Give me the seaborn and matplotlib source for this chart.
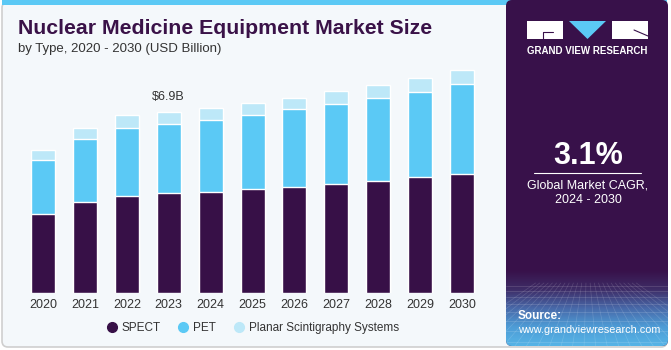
import numpy as np
import pandas as pd
import seaborn as sns
from matplotlib import pyplot as plt
from matplotlib.patches import FancyBboxPatch, Rectangle, Polygon
from matplotlib.lines import Line2D
from matplotlib.colors import LinearSegmentedColormap

# data (USD billion)
years = ["2020", "2021", "2022", "2023", "2024", "2025", "2026", "2027", "2028", "2029", "2030"]
spect = [2.99, 3.47, 3.69, 3.79, 3.84, 3.95, 4.04, 4.16, 4.27, 4.42, 4.54]
pet = [2.07, 2.38, 2.59, 2.65, 2.75, 2.80, 2.94, 3.03, 3.16, 3.23, 3.42]
planar = [0.38, 0.41, 0.47, 0.46, 0.46, 0.46, 0.44, 0.51, 0.49, 0.51, 0.53]
series_names = ["SPECT", "PET", "Planar Scintigraphy Systems"]
callout_year = "2023"
callout_text = r"\$6.9B"
cagr_text = "3.1%"

C_SPECT = "#371047"
C_PET = "#5BC9F5"
C_PLANAR = "#BDE8F8"
C_PURPLE = "#38114A"
C_BG = "#F4F8FB"

sns.set_style("white")
plt.rcParams['font.family'] = ['Liberation Sans', 'DejaVu Sans']

W, H = 671, 350
fig = plt.figure(figsize=(W / 100, H / 100), dpi=100)
fig.patch.set_facecolor("white")


def fx(px):
    return px / W


def fy(py):
    return 1 - py / H


# background layer in pixel coordinates
bg = fig.add_axes([0, 0, 1, 1], zorder=-1)
bg.set_xlim(0, W)
bg.set_ylim(H, 0)
bg.axis("off")

bg.add_patch(FancyBboxPatch((2, 2), 665, 345, boxstyle="round,pad=0,rounding_size=6",
                            fc=C_BG, ec="#CFCFCF", lw=1.2))
bg.add_patch(Rectangle((2, 0), 665, 5, fc=C_PET, ec="none"))

# right side panel
panel = FancyBboxPatch((506, 0), 162, 346, boxstyle="round,pad=0,rounding_size=6",
                       fc=C_PURPLE, ec="none")
bg.add_patch(panel)
grad_cmap = LinearSegmentedColormap.from_list("g", [C_PURPLE, "#3E2C66", "#4868A8", "#4E9CD6", "#56B4E6"])
grad = np.linspace(0, 1, 100).reshape(-1, 1)
im = bg.imshow(grad, cmap=grad_cmap, extent=[506, 668, 346, 270], aspect="auto", zorder=1)
im.set_clip_path(panel)
# faint mesh in the lower part of the panel
for yy in [286, 291, 297, 304, 312, 321, 331, 342]:
    ln, = bg.plot([506, 668], [yy, yy], color="white", alpha=0.18, lw=0.5, zorder=2)
    ln.set_clip_path(panel)
for xx in np.arange(440, 740, 12):
    ln, = bg.plot([587 + (xx - 587) * 0.35, xx], [283, 350], color="white", alpha=0.15, lw=0.5, zorder=2)
    ln.set_clip_path(panel)

# logo
bg.add_patch(Rectangle((527, 21), 36, 18, fc="white", ec="none", zorder=3))
bg.plot([543, 543, 553], [39, 32, 32], color=C_PURPLE, lw=0.8, zorder=4)
bg.add_patch(Polygon([(569, 21), (606, 21), (587.5, 39)], closed=True, fc=C_PET, ec="none", zorder=3))
bg.add_patch(Rectangle((612, 21), 36, 18, fc="white", ec="none", zorder=3))
bg.plot([634, 648], [30, 36], color=C_PURPLE, lw=0.8, zorder=4)
bg.text(587.5, 50.5, "GRAND VIEW RESEARCH", color="white", fontsize=7, fontweight="bold",
        ha="center", va="center", zorder=4)

bg.text(588, 156, cagr_text, color="white", fontsize=22, fontweight="bold", ha="center", va="center", zorder=4)
bg.plot([534, 641], [173, 173], color="white", lw=0.8, zorder=4)
bg.text(588, 185, "Global Market CAGR,", color="white", fontsize=9, ha="center", va="center", zorder=4)
bg.text(588, 200, "2024 - 2030", color="white", fontsize=9, ha="center", va="center", zorder=4)
bg.text(518, 316, "Source:", color="white", fontsize=8.5, fontweight="bold", ha="left", va="center", zorder=4)
bg.text(518, 330, "www.grandviewresearch.com", color="white", fontsize=7.8, ha="left", va="center", zorder=4)

# title
bg.text(18, 28.5, "Nuclear Medicine Equipment Market Size", color="#3A1248", fontsize=15.3,
        fontweight="bold", ha="left", va="center", family=["Liberation Sans Narrow", "Liberation Sans"])
bg.text(18, 49, "by Type, 2020 - 2030 (USD Billion)", color="#333333", fontsize=9.5,
        ha="left", va="center")

# stacked bars
df = pd.DataFrame({"Year": years, "SPECT": spect, "PET": pet, "Planar": planar})
df["mid"] = df["SPECT"] + df["PET"]
df["total"] = df["mid"] + df["Planar"]

ax = fig.add_axes([fx(17.9), fy(293), (487.2 - 17.9) / W, (293 - 60) / H])
ax.set_facecolor("none")
sns.barplot(data=df, x="Year", y="total", color=C_PLANAR, saturation=1, width=0.573, ax=ax)
sns.barplot(data=df, x="Year", y="mid", color=C_PET, saturation=1, width=0.573, ax=ax)
sns.barplot(data=df, x="Year", y="SPECT", color=C_SPECT, saturation=1, width=0.573, ax=ax)

ax.set_xlim(-0.6, 10.6)
ax.set_ylim(0, 8.86)
sns.despine(ax=ax, left=True, bottom=True)
ax.set_yticks([])
ax.set_xlabel("")
ax.set_ylabel("")
ax.tick_params(axis="x", length=0, pad=4, labelsize=9, labelcolor="#333333")

i = years.index(callout_year)
ax.text(i, df["total"][i] + 0.56, callout_text, ha="center", va="center", fontsize=9, color="#333333")

handles = [Line2D([], [], marker="o", ls="none", ms=7, mfc=c, mec=c) for c in (C_SPECT, C_PET, C_PLANAR)]
ax.legend(handles, series_names, loc="center", bbox_to_anchor=(fx(253), fy(328)),
          bbox_transform=fig.transFigure, ncol=3, frameon=False, fontsize=8.5,
          handlelength=0.8, handletextpad=0.45, columnspacing=1.5, labelcolor="#333333")

fig.savefig("out.png", dpi=100, facecolor=fig.get_facecolor())
